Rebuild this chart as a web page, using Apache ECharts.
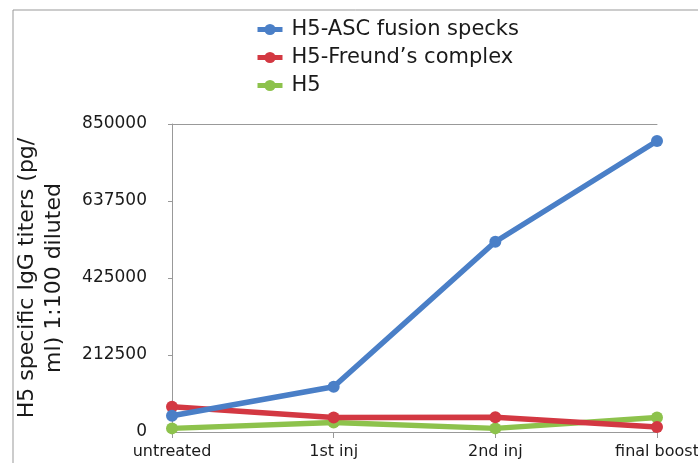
<!DOCTYPE html>
<html>
<head>
<meta charset="utf-8">
<script src="https://cdn.jsdelivr.net/npm/echarts@6/dist/echarts.min.js"></script>
<style>
  html, body { margin: 0; padding: 0; background: #fff; }
  #chart { width: 698px; height: 463px; }
</style>
</head>
<body>
<div id="chart"></div>
<script>
const categories = ['untreated', '1st inj', '2nd inj', 'final boost']
const yTicks = [0, 212500, 425000, 637500, 850000]

const ascSpecks = [45000, 125000, 525000, 803000]
const freundComplex = [70000, 40000, 41000, 14000]
const h5Only = [10000, 26000, 10000, 40000]

const seriesNames = ['H5-ASC fusion specks', 'H5-Freund\u2019s complex', 'H5']
const seriesColors = ['#4a7fc7', '#d33842', '#8dc24c']

const font = 'DejaVu Sans'

const chart = echarts.init(document.getElementById('chart'))

const makeLine = (name, data, color, z) => ({
  name,
  type: 'line',
  data,
  z,
  symbol: 'circle',
  symbolSize: 12,
  lineStyle: { width: 5.5, color },
  itemStyle: { color },
  emphasis: { disabled: true },
  animation: false
})

const option = {
  animation: false,
  color: seriesColors,
  legend: {
    orient: 'vertical',
    left: 250,
    top: 14,
    itemWidth: 25,
    itemHeight: 14,
    itemGap: 7,
    lineStyle: { width: 5 },
    textStyle: { fontFamily: font, fontSize: 21, color: '#1a1a1a', padding: [0, 0, 0, 4] },
    data: seriesNames
  },
  grid: { left: 172, right: 41, top: 124, bottom: 31, outerBoundsMode: 'none' },
  xAxis: [
    {
      type: 'category',
      data: categories,
      boundaryGap: false,
      axisLine: { lineStyle: { color: '#999', width: 1 } },
      axisTick: { show: true, length: 6, lineStyle: { color: '#999' } },
      axisLabel: { fontFamily: font, fontSize: 16, color: '#1a1a1a', margin: 12 },
      splitLine: { show: false }
    },
    {
      type: 'category',
      position: 'top',
      data: categories,
      boundaryGap: false,
      axisLine: { lineStyle: { color: '#999', width: 1 } },
      axisTick: { show: false },
      axisLabel: { show: false }
    }
  ],
  yAxis: {
    type: 'value',
    min: yTicks[0],
    max: yTicks[yTicks.length - 1],
    interval: yTicks[1] - yTicks[0],
    name: 'H5 specific IgG titers (pg/\nml) 1:100 diluted',
    nameLocation: 'middle',
    nameGap: 104,
    nameTextStyle: { fontFamily: font, fontSize: 22, color: '#1a1a1a', lineHeight: 27 },
    axisLine: { show: true, lineStyle: { color: '#999', width: 1 } },
    axisTick: { show: true, length: 4, lineStyle: { color: '#999' } },
    axisLabel: {
      fontFamily: font,
      fontSize: 17,
      color: '#1a1a1a',
      margin: 25,
      formatter: (v) => String(v)
    },
    splitLine: { show: false }
  },
  graphic: [
    { type: 'line', shape: { x1: 13, y1: 10, x2: 698, y2: 10 }, style: { stroke: '#999', lineWidth: 1 } },
    { type: 'line', shape: { x1: 13, y1: 10, x2: 13, y2: 463 }, style: { stroke: '#999', lineWidth: 1 } }
  ],
  series: [
    makeLine(seriesNames[2], h5Only, seriesColors[2], 2),
    makeLine(seriesNames[1], freundComplex, seriesColors[1], 3),
    makeLine(seriesNames[0], ascSpecks, seriesColors[0], 4)
  ]
}

chart.setOption(option)
</script>
</body>
</html>
